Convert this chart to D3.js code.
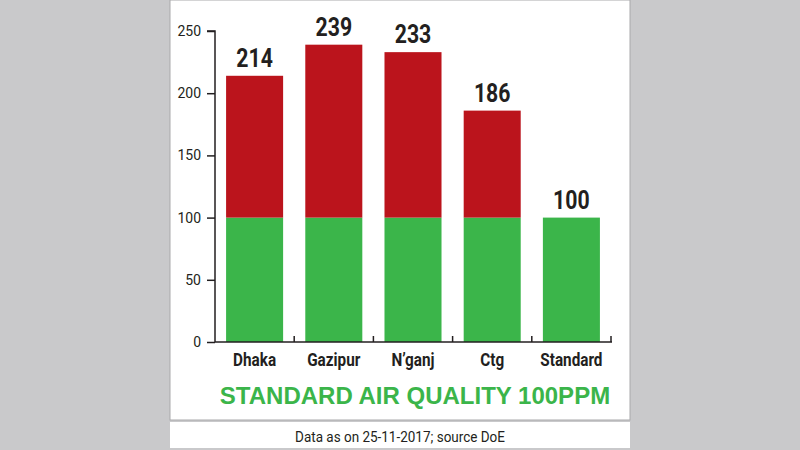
<!DOCTYPE html>
<html><head><meta charset="utf-8">
<script src="https://cdn.jsdelivr.net/npm/d3@7"></script>
<style>body{margin:0;background:#c9c9cb}svg{display:block}</style></head>
<body><svg width="800" height="450"></svg>
<script>
const categories=["Dhaka","Gazipur","N\u2019ganj","Ctg","Standard"];
const totals=[214,239,233,186,100];
const standardLevel=[100,100,100,100,100];
const yTicks=[0,50,100,150,200,250];
const svg=d3.select("svg");
svg.append("rect").attr("x",170).attr("y",0).attr("width",460).attr("height",420).attr("fill","#fff").attr("stroke","#a9a9ab");
svg.append("rect").attr("x",170).attr("y",422).attr("width",460).attr("height",26).attr("fill","#fff");
const x=d3.scaleBand().domain(categories).range([215,611]).paddingInner(0.28).paddingOuter(0.14);
const y=d3.scaleLinear().domain([0,250]).range([342,31]);
const g=svg.append("g");
categories.forEach((c,i)=>{
  const base=Math.min(standardLevel[i],totals[i]);
  g.append("rect").attr("x",x(c)).attr("width",x.bandwidth()).attr("y",y(base)).attr("height",y(0)-y(base)).attr("fill","#3bb54a");
  if(totals[i]>base) g.append("rect").attr("x",x(c)).attr("width",x.bandwidth()).attr("y",y(totals[i])).attr("height",y(base)-y(totals[i])).attr("fill","#bb141c");
  g.append("text").attr("x",x(c)+x.bandwidth()/2).attr("y",y(totals[i])-9).attr("text-anchor","middle")
   .attr("font-family","Roboto").attr("font-weight","bold").attr("font-size",25).attr("fill","#231f20")
   .attr("transform",`translate(${x(c)+x.bandwidth()/2},0) scale(0.85,1) translate(${-(x(c)+x.bandwidth()/2)},0)`).text(totals[i]);
});
const ya=svg.append("g").attr("transform","translate(215,0)").call(d3.axisLeft(y).tickValues(yTicks).tickSize(8).tickPadding(6));
ya.select(".domain").attr("stroke","#231f20").attr("stroke-width",1.5).attr("d","M-8,31H0V342");
ya.selectAll("line").attr("stroke","#231f20").attr("stroke-width",1.5);
ya.selectAll("text").attr("font-family","Roboto").attr("font-size",14).attr("fill","#231f20");
const xa=svg.append("g").attr("transform","translate(0,342)");
xa.append("line").attr("x1",215).attr("x2",612).attr("stroke","#231f20").attr("stroke-width",1.5);
categories.forEach(c=>{
  const e=x(c)+x.bandwidth()+x.step()*x.paddingInner()/2;
  xa.append("line").attr("x1",e).attr("x2",e).attr("y1",0).attr("y2",-6).attr("stroke","#231f20").attr("stroke-width",1.5);
  const cx=x(c)+x.bandwidth()/2;
  xa.append("text").attr("x",cx).attr("y",24).attr("text-anchor","middle").attr("font-family","Roboto").attr("font-weight","bold")
   .attr("font-size",18).attr("fill","#231f20").attr("transform",`translate(${cx},0) scale(0.85,1) translate(${-cx},0)`).text(c);
});
svg.append("text").attr("x",415).attr("y",404).attr("text-anchor","middle").attr("font-family","Liberation Sans").attr("font-weight","bold")
 .attr("font-size",24).attr("fill","#3bb54a").text("STANDARD AIR QUALITY 100PPM");
svg.append("text").attr("x",400).attr("y",442).attr("text-anchor","middle").attr("font-family","Roboto").attr("font-size",15).attr("fill","#231f20")
 .attr("transform","translate(400,0) scale(0.9,1) translate(-400,0)").text("Data as on 25-11-2017; source DoE");
</script></body></html>
